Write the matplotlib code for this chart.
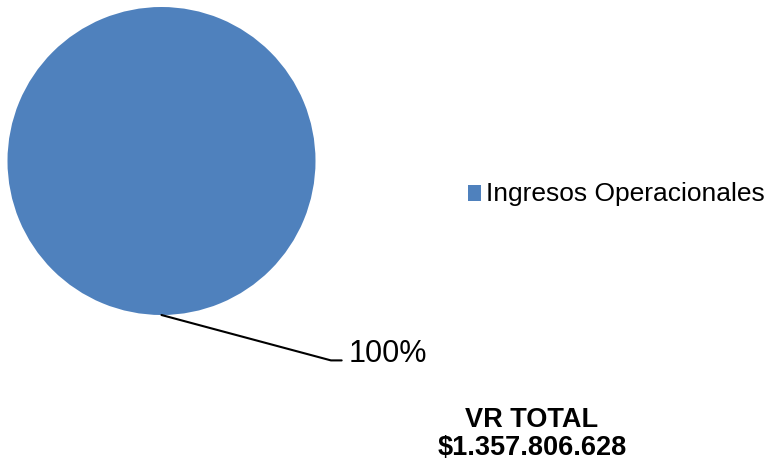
import numpy as np
import matplotlib
matplotlib.use("Agg")
import matplotlib.pyplot as plt
from matplotlib.legend_handler import HandlerPatch
from matplotlib.patches import Wedge

plt.rcParams['font.family'] = ['Liberation Sans', 'DejaVu Sans']

categories = ["Ingresos Operacionales"]
values = [1357806628]
colors = ["#4F81BD"]
pct_labels = ["100%"]
title_lines = ["VR TOTAL", "$1.357.806.628"]

W, H = 772, 464
fig = plt.figure(figsize=(W / 100, H / 100), dpi=100)
ax = fig.add_axes([7.5 / W, (H - 316) / H, 308 / W, 308 / H])

wedges, _ = ax.pie(values, colors=colors, startangle=90, counterclock=True,
                   wedgeprops=dict(linewidth=0))
ax.set_xlim(-1, 1)
ax.set_ylim(-1, 1)
ax.set_aspect('equal')

for w, lab in zip(wedges, pct_labels):
    ang = np.deg2rad((w.theta1 + w.theta2) / 2)
    x, y = np.cos(ang), np.sin(ang)
    ax.annotate(lab, xy=(x, y), xytext=(1.215, -1.30), textcoords='data',
                ha='left', va='baseline', fontsize=22, color='black',
                annotation_clip=False,
                arrowprops=dict(arrowstyle='-', color='black', lw=1.5,
                                shrinkA=3, shrinkB=0,
                                connectionstyle='angle,angleA=0,angleB=-15,rad=0',
                                relpos=(0, 0.26)))

fig.legend(wedges, categories, loc='center left',
           bbox_to_anchor=(468 / W, 1 - 194 / H), frameon=False,
           fontsize=19, handlelength=0.5, handleheight=0.2,
           handletextpad=0.2, borderpad=0, borderaxespad=0,
           handler_map={Wedge: HandlerPatch(ypad=-0.2)})

fig.text(532 / W, 1 - 427 / H, title_lines[0], ha='center', va='baseline',
         fontsize=19.5, fontweight='bold')
fig.text(532 / W, 1 - 455 / H, title_lines[1], ha='center', va='baseline',
         fontsize=19.5, fontweight='bold')

fig.savefig("out.png", dpi=100)
